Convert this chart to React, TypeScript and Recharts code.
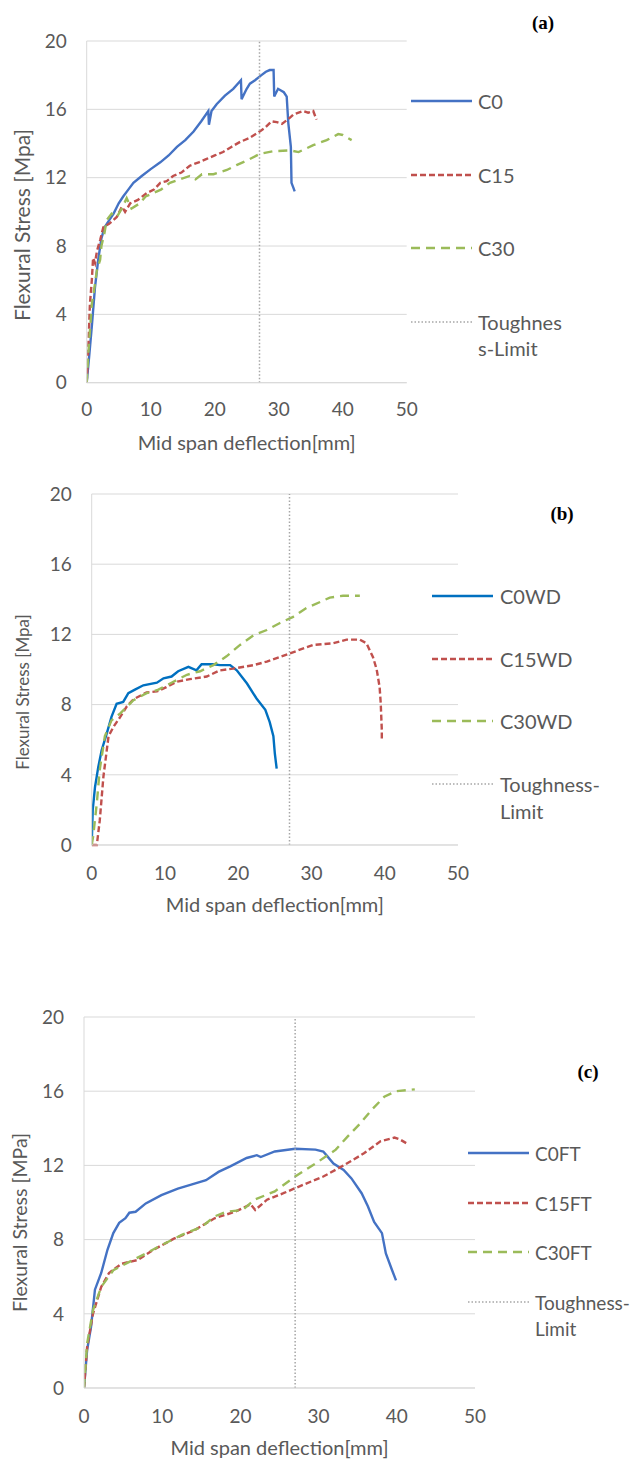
import React from "react"
import { LineChart, Line, XAxis, YAxis, CartesianGrid, Legend } from "recharts"

type Pt = [number, number]

const xTicks = [0, 10, 20, 30, 40, 50]
const yTicks = [0, 4, 8, 12, 16, 20]
const toughnessLimit = 27

// panel (a)
const c0: Pt[] = [[0,0],[0.4,1.6],[0.8,3.3],[1.3,5.6],[1.8,7.2],[2.3,8.45],[2.8,9.1],[3.5,9.5],[4.2,9.9],[5.0,10.5],[5.7,10.9],[6.5,11.3],[7.3,11.7],[8.6,12.1],[10.0,12.5],[11.5,12.9],[12.8,13.3],[14.1,13.8],[15.4,14.2],[16.7,14.7],[17.9,15.3],[19.0,15.9],[19.1,15.1],[19.5,15.9],[20.3,16.3],[21.6,16.8],[22.9,17.2],[24.1,17.7],[24.2,16.6],[25.0,17.2],[25.5,17.5],[26.3,17.7],[27.3,18.0],[28.0,18.2],[28.6,18.3],[29.2,18.3],[29.3,16.75],[29.9,17.2],[30.8,17.0],[31.25,16.75],[31.5,15.2],[31.9,13.8],[32.0,11.7],[32.3,11.4],[32.5,11.2]]
const c15: Pt[] = [[0,0],[0.3,2.5],[0.5,4.6],[0.8,6.0],[1.0,7.3],[1.3,7.0],[1.6,7.7],[2.1,8.35],[2.6,9.1],[3.5,9.3],[4.7,9.7],[5.5,10.3],[6.0,10.0],[6.8,10.5],[8.0,10.7],[9.4,11.1],[10.5,11.3],[11.5,11.7],[12.5,11.8],[13.5,12.1],[14.8,12.3],[16.1,12.7],[17.5,12.9],[18.75,13.1],[20.0,13.3],[21.3,13.5],[22.6,13.8],[24.0,14.1],[25.3,14.3],[26.6,14.6],[27.8,14.9],[28.9,15.3],[29.7,15.25],[30.5,15.15],[31.4,15.4],[32.3,15.7],[33.8,15.9],[34.6,15.8],[35.4,15.9],[35.9,15.4]]
const c30: Pt[] = [[0,0],[0.25,1.7],[0.8,4.6],[1.3,5.8],[1.6,6.6],[2.1,7.2],[2.3,8.0],[2.8,8.8],[3.1,9.5],[3.9,9.9],[4.7,9.7],[5.5,10.2],[6.25,10.8],[7.0,10.2],[8.3,10.5],[9.2,10.9],[10.4,11.1],[11.6,11.3],[13.0,11.7],[14.5,11.9],[16.1,12.1],[17.0,11.9],[18.0,12.2],[19.8,12.2],[21.9,12.45],[23.5,12.75],[25.0,13.0],[27.1,13.4],[29.2,13.55],[31.8,13.6],[33.1,13.5],[35.4,13.9],[37.5,14.2],[39.3,14.55],[40.0,14.5],[41.4,14.2]]

// panel (b)
const c0wd: Pt[] = [[0,0],[0.14,2.0],[0.45,3.3],[0.9,4.45],[1.36,5.4],[2.05,6.35],[2.7,7.3],[3.4,8.05],[4.3,8.15],[5.0,8.65],[5.9,8.85],[7.05,9.1],[8.9,9.25],[9.8,9.5],[10.9,9.6],[11.8,9.9],[13.2,10.15],[14.3,9.95],[15.0,10.3],[16.6,10.3],[17.5,10.25],[18.9,10.25],[19.8,9.95],[21.2,9.2],[22.5,8.35],[23.7,7.7],[24.3,7.0],[24.8,6.2],[25.0,5.2],[25.25,4.35]]
const c15wd: Pt[] = [[0,0],[0.7,0],[1.1,1.4],[1.6,3.9],[2.3,6.2],[3.0,6.75],[3.9,7.3],[4.8,7.9],[5.7,8.3],[7.5,8.7],[8.9,8.75],[10.2,9.0],[11.6,9.3],[13.4,9.45],[15.7,9.6],[17.5,9.95],[19.3,10.05],[22.1,10.25],[23.9,10.45],[26.6,10.85],[28.9,11.2],[30.25,11.4],[33.0,11.5],[34.8,11.7],[36.6,11.7],[37.5,11.5],[38.4,10.7],[38.9,10.0],[39.3,9.0],[39.45,8.1],[39.6,6.55],[39.6,6.0]]
const c30wd: Pt[] = [[0,0],[0.2,0.5],[0.7,2.4],[1.1,4.3],[1.8,6.2],[2.7,7.1],[3.9,7.5],[5.7,8.25],[7.5,8.65],[9.1,8.85],[11.15,9.3],[13.0,9.7],[14.8,9.9],[16.6,10.25],[18.4,10.75],[20.25,11.4],[22.1,11.95],[23.9,12.25],[25.7,12.65],[27.5,13.0],[29.3,13.5],[31.2,13.85],[32.5,14.1],[34.3,14.2],[36.6,14.2]]

// panel (c)
const c0ft: Pt[] = [[0,0],[0.4,2.05],[0.9,3.3],[1.4,5.3],[2.2,6.2],[3.0,7.45],[3.75,8.35],[4.5,8.9],[5.3,9.15],[5.8,9.45],[6.6,9.5],[7.9,9.95],[9.9,10.4],[12.0,10.75],[13.6,10.95],[15.6,11.2],[17.2,11.65],[18.7,11.95],[20.8,12.4],[22.1,12.55],[22.6,12.45],[24.4,12.75],[27.0,12.9],[29.6,12.85],[30.6,12.75],[31.1,12.5],[31.9,12.1],[33.2,11.75],[34.2,11.3],[35.5,10.5],[36.3,9.8],[37.1,8.95],[38.1,8.35],[38.6,7.25],[39.4,6.35],[39.9,5.8]]
const c15ft: Pt[] = [[0,0],[0.4,2.2],[1.15,4.0],[2.2,5.45],[3.2,6.2],[4.8,6.7],[6.85,6.9],[8.9,7.45],[11.5,8.05],[14.1,8.5],[16.7,9.15],[19.3,9.5],[21.3,9.9],[21.9,9.6],[23.4,10.15],[25.5,10.5],[28.0,10.95],[30.6,11.4],[33.2,12.0],[35.8,12.65],[37.9,13.3],[39.7,13.5],[40.4,13.4],[41.2,13.2]]
const c30ft: Pt[] = [[0,0],[0.4,2.4],[1.15,4.2],[2.2,5.45],[3.75,6.35],[5.8,6.8],[7.9,7.25],[9.9,7.7],[12.5,8.25],[15.1,8.7],[16.7,9.25],[18.2,9.5],[20.3,9.6],[21.8,10.15],[24.4,10.6],[27.0,11.4],[29.6,12.1],[32.2,12.85],[33.7,13.55],[35.3,14.25],[36.8,15.0],[38.4,15.7],[39.9,16.0],[42.3,16.1]]

const toughness: Pt[] = [[toughnessLimit, 0], [toughnessLimit, 20]]

const FONT = "Lato, 'Open Sans', sans-serif"
const TEXT = "#595959"
const GRID = "#d9d9d9"

interface Series {
  name: string
  pts: Pt[]
  color: string
  dash?: string
  width: number
}

const dashRed = "6 3"
const dashGreen = "9 6"
const dashDot = "1.5 2"

interface Panel {
  tag: string
  top: number
  height: number
  plot: { l: number; r: number; t: number; b: number }
  xTickMargin: number
  xTitleY: number
  yTitle: string
  yTitleX: number
  yTitleY: number
  yTitleSize: number
  legend: { x0: number; x1: number; tx: number; ys: number[]; dy: number; size: number }
  tagPos: [number, number]
  toughLines: string[]
  series: Series[]
}

const toughSeries = (): Series => ({ name: "Toughness-Limit", pts: toughness, color: "#a6a6a6", dash: dashDot, width: 1.5 })

const panels: Panel[] = [
  {
    tag: "(a)", top: 0, height: 470,
    plot: { l: 86.7, r: 406.7, t: 41, b: 382.7 },
    xTickMargin: 20, xTitleY: 450,
    yTitle: "Flexural Stress [Mpa]", yTitleX: 21, yTitleY: 225, yTitleSize: 21,
    legend: { x0: 411, x1: 472, tx: 478, ys: [101, 175, 248, 322], dy: 26, size: 20 },
    tagPos: [543, 23],
    toughLines: ["Toughnes", "s-Limit"],
    series: [
      { name: "C0", pts: c0, color: "#4472c4", width: 2.4 },
      { name: "C15", pts: c15, color: "#c0504d", dash: dashRed, width: 2.4 },
      { name: "C30", pts: c30, color: "#9bbb59", dash: dashGreen, width: 2.4 },
      toughSeries(),
    ],
  },
  {
    tag: "(b)", top: 470, height: 490,
    plot: { l: 91.7, r: 458, t: 24, b: 375 },
    xTickMargin: 22, xTitleY: 442,
    yTitle: "Flexural Stress [Mpa]", yTitleX: 22, yTitleY: 222, yTitleSize: 17,
    legend: { x0: 432, x1: 493, tx: 500, ys: [126, 189, 251, 314], dy: 27, size: 20 },
    tagPos: [562, 44],
    toughLines: ["Toughness-", "Limit"],
    series: [
      { name: "C0WD", pts: c0wd, color: "#0070c0", width: 2.4 },
      { name: "C15WD", pts: c15wd, color: "#c0504d", dash: dashRed, width: 2.4 },
      { name: "C30WD", pts: c30wd, color: "#9bbb59", dash: dashGreen, width: 2.4 },
      toughSeries(),
    ],
  },
  {
    tag: "(c)", top: 960, height: 499,
    plot: { l: 84, r: 475, t: 57, b: 428 },
    xTickMargin: 22, xTitleY: 495,
    yTitle: "Flexural Stress [MPa]", yTitleX: 19, yTitleY: 262.5, yTitleSize: 19.5,
    legend: { x0: 468, x1: 529, tx: 535, ys: [193, 243, 292, 342], dy: 26, size: 19 },
    tagPos: [588, 112],
    toughLines: ["Toughness-", "Limit"],
    series: [
      { name: "C0FT", pts: c0ft, color: "#4472c4", width: 2.4 },
      { name: "C15FT", pts: c15ft, color: "#c0504d", dash: dashRed, width: 2.4 },
      { name: "C30FT", pts: c30ft, color: "#9bbb59", dash: dashGreen, width: 2.4 },
      toughSeries(),
    ],
  },
]

const W = 634
const BOTTOM_PAD = 4

function PanelChart({ p }: { p: Panel }) {
  const lg = p.legend
  const renderLegend = (props: any) => {
    const items: any[] = props.payload || []
    return (
      <svg width={W} height={p.height} style={{ display: "block" }}>
        {items.map((it, i) => {
          const s = p.series.find((q) => q.name === it.value) || p.series[i]
          const y = lg.ys[i]
          const lines = s.name === "Toughness-Limit" ? p.toughLines : [s.name]
          return (
            <g key={s.name}>
              <line x1={lg.x0} x2={lg.x1} y1={y} y2={y} stroke={s.color} strokeWidth={s.width} strokeDasharray={s.dash} />
              {lines.map((t, k) => (
                <text key={k} x={lg.tx} y={y + k * lg.dy} dominantBaseline="central" fill={TEXT} fontSize={lg.size} fontFamily={FONT}>
                  {t}
                </text>
              ))}
            </g>
          )
        })}
      </svg>
    )
  }

  return (
    <div style={{ position: "absolute", left: 0, top: p.top, width: W, height: p.height }}>
      <LineChart
        width={W}
        height={p.height}
        margin={{ top: p.plot.t, right: W - p.plot.r, left: 0, bottom: BOTTOM_PAD }}
      >
        <CartesianGrid vertical={false} stroke={GRID} strokeWidth={1} />
        <XAxis
          type="number"
          dataKey="x"
          domain={[0, 50]}
          ticks={xTicks}
          allowDataOverflow
          height={p.height - p.plot.b - BOTTOM_PAD}
          tickLine={false}
          tickSize={0}
          tickMargin={p.xTickMargin}
          axisLine={{ stroke: GRID }}
          tick={{ fill: TEXT, fontSize: 19, fontFamily: FONT }}
          label={{
            content: () => (
              <text x={(p.plot.l + p.plot.r) / 2} y={p.xTitleY} textAnchor="middle" fill={TEXT} fontSize={20} fontFamily={FONT}>
                Mid span deflection[mm]
              </text>
            ),
          }}
        />
        <YAxis
          type="number"
          dataKey="y"
          domain={[0, 20]}
          ticks={yTicks}
          width={p.plot.l}
          tickLine={false}
          tickSize={0}
          tickMargin={20}
          axisLine={{ stroke: GRID }}
          tick={{ fill: TEXT, fontSize: 19, fontFamily: FONT }}
          label={{
            content: () => (
              <text
                x={p.yTitleX}
                y={p.yTitleY}
                textAnchor="middle"
                dominantBaseline="central"
                transform={`rotate(-90, ${p.yTitleX}, ${p.yTitleY})`}
                fill={TEXT}
                fontSize={p.yTitleSize}
                fontFamily={FONT}
              >
                {p.yTitle}
              </text>
            ),
          }}
        />
        {p.series.map((s) => (
          <Line
            key={s.name}
            name={s.name}
            data={s.pts.map(([x, y]) => ({ x, y }))}
            dataKey="y"
            type="linear"
            stroke={s.color}
            strokeWidth={s.width}
            strokeDasharray={s.dash}
            dot={false}
            activeDot={false}
            isAnimationActive={false}
          />
        ))}
        <Legend
          layout="vertical"
          align="center"
          verticalAlign="middle"
          wrapperStyle={{ left: 0, top: 0, width: W, height: p.height, pointerEvents: "none" }}
          content={renderLegend}
        />
      </LineChart>
      <div
        style={{
          position: "absolute",
          left: p.tagPos[0],
          top: p.tagPos[1],
          transform: "translate(-50%, -50%)",
          fontFamily: "'Liberation Serif', 'Times New Roman', serif",
          fontWeight: "bold",
          fontSize: 19,
          color: "#000",
        }}
      >
        {p.tag}
      </div>
    </div>
  )
}

export default function App() {
  return (
    <div style={{ position: "absolute", left: 0, top: 0, width: W, height: 1459, background: "#fff" }}>
      {panels.map((p) => (
        <PanelChart key={p.tag} p={p} />
      ))}
    </div>
  )
}
